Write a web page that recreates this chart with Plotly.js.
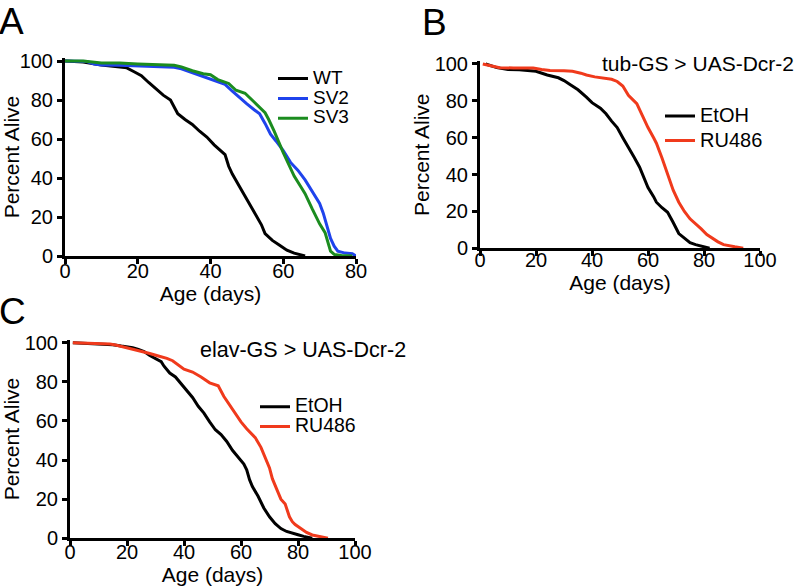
<!DOCTYPE html>
<html><head><meta charset="utf-8">
<script src="https://cdn.plot.ly/plotly-3.0.1.min.js"></script>
<style>html,body{margin:0;padding:0;background:#fff}</style>
</head><body><div id="chart" style="width:796px;height:588px"></div>
<script>
// ---- Panel A ----
const wtDays  = [0, 5, 10, 15, 17, 19, 21, 23, 25, 27, 29, 31, 33, 35, 37, 39, 41, 43, 44, 45, 46, 48, 50, 52, 54, 55, 57, 59, 61, 63, 65, 66];
const wtAlive = [100, 99.5, 98, 97, 96.5, 94.5, 92.5, 89, 85.5, 82.5, 80, 73, 70, 67.5, 64, 61, 57, 53.5, 52, 46, 42, 35.5, 29, 22, 16, 11.5, 8, 5.5, 3, 1.5, 0.5, 0];
const sv2Days  = [0, 6, 8, 10, 15, 20, 25, 30, 32, 35, 38, 40, 42, 44, 46, 48, 50, 52, 53.5, 55, 56.5, 58, 60, 62, 64, 66, 68, 70, 71, 72, 73, 74, 75, 77, 79, 80];
const sv2Alive = [100, 99.7, 98.5, 98, 97.8, 97.5, 97, 96.8, 96, 94, 92, 91, 89.5, 88, 84.5, 81, 78, 75, 73, 68, 62.5, 59, 54, 48, 44, 39, 33, 27, 22, 16, 9, 5, 2.5, 1.5, 1.2, 0];
const sv3Days  = [0, 5, 10, 15, 20, 25, 30, 32, 35, 38, 40, 42, 44, 45, 47, 49.5, 52, 55, 56, 57.5, 60, 62, 63, 65, 66, 68, 70, 71.5, 73, 74, 76, 79];
const sv3Alive = [100, 100, 99, 99, 98.5, 98, 97.8, 97, 95, 93.5, 93, 90.5, 89, 88.5, 85, 83.5, 79, 73.5, 70, 64, 53, 45, 41, 35, 32, 24, 16.5, 12, 2.5, 0.8, 0.3, 0];

// ---- Panel B: tub-GS > UAS-Dcr-2 ----
const bEtohDays  = [2, 6, 10, 14, 20, 22, 24, 28, 30, 32, 35, 38, 40, 43, 45, 47, 49, 51, 53, 55, 57, 59, 60, 62, 63, 65, 67, 69, 71, 73, 75, 77, 79, 81, 82];
const bEtohAlive = [100, 98, 97, 96.8, 96, 95, 94, 92.5, 91, 89, 86, 82, 79, 76, 73, 69, 65.5, 60, 55, 49.5, 44, 37, 33, 28, 25, 22, 19.5, 14, 8, 5.5, 3, 2, 1.3, 0.5, 0];
const bRuDays  = [1, 4, 7, 12, 19, 22, 25, 30, 33, 36, 38, 41, 44, 47, 49, 51, 53, 55, 56, 58, 60, 62, 63, 65, 67, 69, 71, 73, 75, 77, 79, 81, 83, 85, 87, 89, 91, 93, 94];
const bRuAlive = [100, 99, 98, 97.8, 97.8, 97, 96.5, 96.3, 96, 95, 94, 93, 92.4, 91.7, 90.5, 88, 83, 80, 78.5, 72, 65.5, 60, 57, 49, 40, 31.5, 25, 20, 16, 13.5, 10.5, 7.5, 5.5, 3.5, 2, 1.2, 0.8, 0.3, 0];

// ---- Panel C: elav-GS > UAS-Dcr-2 ----
const cEtohDays  = [1, 5, 10, 15, 18, 20, 22, 24, 26, 28, 30, 32, 33, 35, 37, 39, 41, 43, 45, 47, 49, 51, 53, 55, 57, 59, 61, 62, 63, 64, 66, 68, 70, 72, 74, 76, 78, 80, 82, 84, 85];
const cEtohAlive = [100, 99.7, 99.5, 99, 98.3, 98, 97.5, 96.6, 95.5, 93.5, 92, 90.3, 88, 84.5, 82.5, 79, 75.5, 72, 67.5, 64, 59.5, 55.5, 53, 49.5, 45, 41.5, 38, 35, 30, 26.5, 21.5, 15.5, 11, 7.5, 5, 3.5, 2.5, 1.8, 1, 0.4, 0];
const cRuDays  = [1, 10, 14, 16, 20, 24, 28, 31, 34, 36, 38, 40, 43, 46, 49, 51, 52, 54, 56, 58, 60, 62, 64, 65, 67, 69, 70, 71, 72, 73, 74, 75.5, 77, 78, 79, 81, 83, 85, 87, 89, 90.5];
const cRuAlive = [100, 99.6, 99.3, 98.8, 97.4, 96.2, 94.5, 93.2, 92, 90.8, 88.7, 86.5, 85, 82.5, 79.5, 78.5, 78, 72.5, 68, 64, 59.5, 56, 53, 51.5, 46.5, 40, 36, 30.5, 26.5, 23.5, 20, 17.5, 11, 8.5, 7, 5, 3, 1.7, 1.2, 0.6, 0];

const xTicksA = [0, 20, 40, 60, 80];
const xTicksBC = [0, 20, 40, 60, 80, 100];
const yTicks = [0, 20, 40, 60, 80, 100];

const FONT = 'Liberation Sans, Arial, Helvetica, sans-serif';
const BLACK = '#000000', BLUE = '#1f43ec', GREEN = '#1b8c1f', RED = '#f03a1c';

function nm(t, s) { return '<span style="font-size:' + s + 'px">' + t + '</span>'; }
function tr(x, y, name, color, xa, ya, leg, s) {
  return {x: x, y: y, name: nm(name, s), type: 'scatter', mode: 'lines',
    line: {color: color, width: 3}, xaxis: xa, yaxis: ya, legend: leg, hoverinfo: 'skip'};
}
const data = [
  tr(wtDays, wtAlive, 'WT', BLACK, 'x', 'y', 'legend', 19),
  tr(sv2Days, sv2Alive, 'SV2', BLUE, 'x', 'y', 'legend', 19),
  tr(sv3Days, sv3Alive, 'SV3', GREEN, 'x', 'y', 'legend', 19),
  tr(bEtohDays, bEtohAlive, 'EtOH', BLACK, 'x2', 'y2', 'legend2', 20),
  tr(bRuDays, bRuAlive, 'RU486', RED, 'x2', 'y2', 'legend2', 20),
  tr(cEtohDays, cEtohAlive, 'EtOH', BLACK, 'x3', 'y3', 'legend3', 19.5),
  tr(cRuDays, cRuAlive, 'RU486', RED, 'x3', 'y3', 'legend3', 19.5)
];

function xax(domain, range, ticks, anchor, lblShift, standoff) {
  return {domain: domain, range: range, anchor: anchor, tickmode: 'array', tickvals: ticks,
    showline: true, linewidth: 3, linecolor: '#000', ticks: 'outside', ticklen: 5, tickwidth: 3, tickcolor: '#000',
    ticklabelstandoff: lblShift,
    showgrid: false, zeroline: false, tickfont: {family: FONT, size: 20, color: '#000'},
    title: {text: 'Age (days)', font: {family: FONT, size: 21, color: '#000'}, standoff: standoff}, fixedrange: true};
}
function yax(domain, range, anchor, standoff) {
  return {domain: domain, range: range, anchor: anchor, tickmode: 'array', tickvals: yTicks,
    showline: true, linewidth: 3, linecolor: '#000', ticks: 'outside', ticklen: 5, tickwidth: 3, tickcolor: '#000',
    showgrid: false, zeroline: false, tickfont: {family: FONT, size: 20, color: '#000'},
    title: {text: 'Percent Alive', font: {family: FONT, size: 21, color: '#000'}, standoff: standoff}, fixedrange: true};
}
function leg(x, y, size) {
  return {x: x, y: y, xanchor: 'left', yanchor: 'middle', xref: 'paper', yref: 'paper',
    bgcolor: 'rgba(0,0,0,0)', borderwidth: 0, font: {family: FONT, size: size, color: '#000'},
    tracegroupgap: 0, itemclick: false, itemdoubleclick: false};
}
function ann(text, x, y, size, xanchor) {
  return {text: text, x: x, y: y, xref: 'paper', yref: 'paper', xanchor: xanchor || 'left', yanchor: 'middle',
    showarrow: false, font: {family: FONT, size: size, color: '#000'}};
}
const W = 796, H = 588;
const layout = {
  width: W, height: H, margin: {l: 0, r: 0, t: 0, b: 0}, paper_bgcolor: '#fff', plot_bgcolor: '#fff',
  showlegend: true, font: {family: FONT, color: '#000'},
  xaxis: xax([65 / W, 356 / W], [0, 80], xTicksA, 'y', -10, 0),
  yaxis: yax([1 - 256 / H, 1 - 58.1 / H], [0, 101.5], 'x', 0),
  xaxis2: xax([480 / W, 760 / W], [0, 100], xTicksBC, 'y2', -13, 0),
  yaxis2: yax([1 - 248.3 / H, 1 - 61.2 / H], [0, 101.5], 'x2', 0),
  xaxis3: xax([70 / W, 355 / W], [0, 100], xTicksBC, 'y3', -11, 0),
  yaxis3: yax([1 - 538.3 / H, 1 - 339.8 / H], [0, 101.5], 'x3', 0),
  legend: leg(273 / W, 1 - 98.6 / H, 13),
  legend2: leg(660 / W, 1 - 128.3 / H, 16.5),
  legend3: leg(255 / W, 1 - 416.7 / H, 13),
  annotations: [
    ann('A', -3 / W, 1 - 21.5 / H, 37),
    ann('B', 420 / W, 1 - 22.5 / H, 37),
    ann('C', -3 / W, 1 - 311 / H, 37),
    ann('tub-GS &gt; UAS-Dcr-2', 600 / W, 1 - 63.8 / H, 21),
    ann('elav-GS &gt; UAS-Dcr-2', 198 / W, 1 - 350 / H, 21.5)
  ]
};
Plotly.newPlot('chart', data, layout, {staticPlot: true, displayModeBar: false});
</script>
</body></html>
